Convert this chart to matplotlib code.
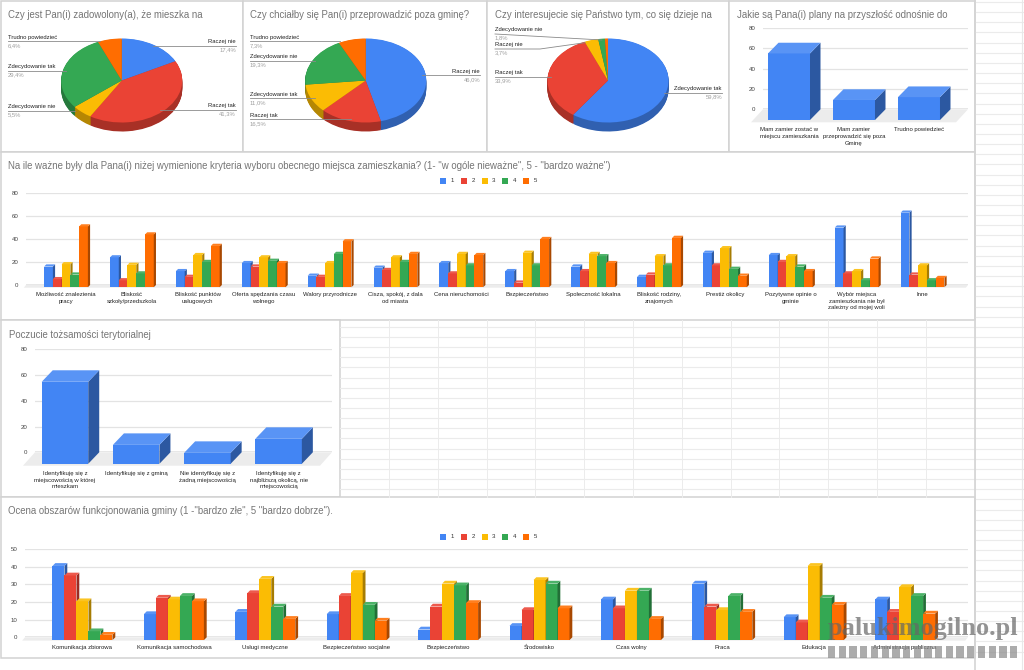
import matplotlib
matplotlib.use("Agg")
import matplotlib.pyplot as plt
import numpy as np
from matplotlib.patches import Polygon, Rectangle

plt.rcParams['font.family'] = ['Liberation Sans', 'DejaVu Sans']

W, H = 1024, 670

SERIES_COLORS = ['#4285F4', '#EA4335', '#FBBC04', '#34A853', '#FF6D01']
SERIES_NAMES = ['1', '2', '3', '4', '5']

# pie charts
pie1_titles = 'Czy jest Pan(i) zadowolony(a), że mieszka na'
pie1_names = ['Raczej nie', 'Raczej tak', 'Zdecydowanie nie', 'Zdecydowanie tak', 'Trudno powiedzieć']
pie1_values = [17.4, 41.3, 5.5, 29.4, 6.4]

pie2_titles = 'Czy chciałby się Pan(i) przeprowadzić poza gminę?'
pie2_names = ['Raczej nie', 'Raczej tak', 'Zdecydowanie tak', 'Zdecydowanie nie', 'Trudno powiedzieć']
pie2_values = [46.0, 16.5, 11.0, 19.3, 7.3]

pie3_titles = 'Czy interesujecie się Państwo tym, co się dzieje na'
pie3_names = ['Zdecydowanie tak', 'Raczej tak', 'Raczej nie', 'Zdecydowanie nie', '']
pie3_values = [59.8, 33.9, 3.7, 1.8, 0.8]

# single series bars
plans_labels = ['Mam zamier zostać w\nmiejscu zamieszkania',
                'Mam zamier\nprzeprowadzić się poza\nGminę',
                'Trudno powiedzieć']
plans_values = [65.5, 19.7, 22.5]

identity_labels = ['Identyfikuję się z\nmiejscowością w której\nmieszkam',
                   'Identyfikuję się z gminą',
                   'Nie identyfikuję się z\nżadną miejscowością',
                   'Identyfikuję się z\nnajbliższą okolicą, nie\nmiejscowością']
identity_values = [63.7, 14.7, 8.5, 19.4]

# criteria of choosing the place to live
criteria_labels = ['Możliwość znalezienia\npracy', 'Bliskość\nszkoły/przedszkola',
                   'Bliskość punktów\nusługowych', 'Oferta spędzania czasu\nwolnego',
                   'Walory przyrodnicze', 'Cisza, spokój, z dala\nod miasta',
                   'Cena nieruchomości', 'Bezpieczeństwo', 'Społeczność lokalna',
                   'Bliskość rodziny,\nznajomych', 'Prestiż okolicy',
                   'Pozytywne opinie o\ngminie',
                   'Wybór miejsca\nzamieszkania nie był\nzależny od mojej woli', 'Inne']
criteria_1 = [18, 26, 14, 21, 10, 17, 21, 14, 18, 9, 30, 28, 52, 65]
criteria_2 = [7, 6, 9, 18, 9, 15, 12, 4, 14, 11, 19, 22, 12, 11]
criteria_3 = [20, 19.5, 28, 26, 21, 26, 29, 30, 29, 27, 34, 27, 14, 19]
criteria_4 = [11, 12, 22, 23, 29, 22, 19, 19, 27, 19, 16, 18, 6, 6]
criteria_5 = [53, 46, 36, 21, 40, 29, 28, 42, 21, 43, 10, 14, 25, 8]

# rating of the municipality
rating_labels = ['Komunikacja zbiorowa', 'Komunikacja samochodowa', 'Usługi medyczne',
                 'Bezpieczeństwo socjalne', 'Bezpieczeństwo', 'Środowisko', 'Czas wolny',
                 'Praca', 'Edukacja', 'Administracja publiczna']
rating_1 = [42, 14.7, 16, 14.7, 6, 8, 23, 32, 13, 23]
rating_2 = [36.6, 24, 26.6, 25, 19, 17, 18, 19, 10, 16]
rating_3 = [22, 23, 34.7, 38, 32, 34, 28, 17, 42, 30]
rating_4 = [5, 25, 19, 20, 31, 32, 28, 25, 24, 25]
rating_5 = [3, 22, 12, 11, 21, 18, 12, 16, 20, 15]


def shade(color, k):
    r, g, b = matplotlib.colors.to_rgb(color)
    return (r * k, g * k, b * k)


def tint(color, k):
    r, g, b = matplotlib.colors.to_rgb(color)
    return (r + (1 - r) * k, g + (1 - g) * k, b + (1 - b) * k)


def px_axes(fig, x0, y0, x1, y1):
    """Axes placed by pixel box, y counted from the top of the figure."""
    return fig.add_axes([x0 / W, 1 - y1 / H, (x1 - x0) / W, (y1 - y0) / H])


def px_units(ax):
    """Data units per pixel along x and y."""
    pos = ax.get_position()
    x0, x1 = ax.get_xlim()
    y0, y1 = ax.get_ylim()
    return (x1 - x0) / (pos.width * W), (y1 - y0) / (pos.height * H)


def draw_bar_3d(ax, x, value, width, dx, dy, color, z, top_tint=0.12):
    ax.bar(x, value, width, bottom=-dy, color=color, linewidth=0, zorder=z, clip_on=False)
    left, right = x - width / 2, x + width / 2
    side = [(right, -dy), (right + dx, 0), (right + dx, value), (right, value - dy)]
    top = [(left, value - dy), (left + dx, value), (right + dx, value), (right, value - dy)]
    ax.add_patch(Polygon(side, color=shade(color, 0.66), lw=0, zorder=z, clip_on=False))
    ax.add_patch(Polygon(top, color=tint(color, top_tint), lw=0, zorder=z, clip_on=False))


def setup_bar_axes(ax, xlim, ymax, step, labels, floor_px, pad, fs=4.4, xfs=4.3):
    ax.set_xlim(*xlim)
    ax.set_ylim(0, ymax)
    for s in ax.spines.values():
        s.set_visible(False)
    ax.patch.set_alpha(0)
    ax.set_axisbelow(True)
    ax.yaxis.grid(True, color='#e3e3e3', lw=0.9)
    ax.set_yticks(np.arange(0, ymax + 1, step))
    ax.set_xticks(np.arange(len(labels)))
    ax.set_xticklabels(labels, linespacing=1.42)
    ax.tick_params(axis='x', length=0, pad=pad, labelsize=xfs, labelcolor='#222222')
    ax.tick_params(axis='y', length=0, pad=5.5, labelsize=fs, labelcolor='#444444')

    ux, uy = px_units(ax)
    fx, fy = floor_px
    x0, x1 = xlim
    floor = [(x0, 0), (x1, 0), (x1 - fx * ux, -fy * uy), (x0 - fx * ux, -fy * uy)]
    ax.add_patch(Polygon(floor, color='#ececec', lw=0, zorder=0.6, clip_on=False))
    ax.axhline(0, color='#9a9a9a', lw=1.0, zorder=0.7)
    return ux, uy


def grouped_chart(ax, xlim, ymax, step, labels, series, pitch_px, width_px, depth_px, pad):
    ux, uy = setup_bar_axes(ax, xlim, ymax, step, labels, (depth_px, depth_px + 0.5), pad)
    z = 2.0
    for i in range(len(labels)):
        for j, values in enumerate(series):
            x = i + (j - 2) * pitch_px * ux
            draw_bar_3d(ax, x, values[i], width_px * ux, depth_px * ux, depth_px * uy,
                        SERIES_COLORS[j], z)
            z += 0.01


def single_chart(ax, xlim, ymax, step, labels, values, width_px, depth, floor_px, pad):
    ux, uy = setup_bar_axes(ax, xlim, ymax, step, labels, floor_px, pad)
    for i, v in enumerate(values):
        draw_bar_3d(ax, i, v, width_px * ux, depth[0] * ux, depth[1] * uy, SERIES_COLORS[0],
                    2 + i * 0.01)


def pie_3d(fig, cx, cy, rx, ry, depth, values, colors):
    ax = px_axes(fig, cx - rx, cy - ry, cx + rx, cy + ry + depth)
    d = depth / ry
    # stacked darker copies make the rim, the bright pie goes on top
    for off in np.linspace(-d, -0.01, 14):
        ax.pie(values, colors=[shade(c, 0.72) for c in colors], startangle=90,
               counterclock=False, center=(0, off), wedgeprops={'linewidth': 0})
    ax.pie(values, colors=colors, startangle=90, counterclock=False,
           wedgeprops={'linewidth': 0})
    ax.set_aspect('auto')
    ax.set_xlim(-1, 1)
    ax.set_ylim(-1 - d, 1)
    return ax


fig = plt.figure(figsize=(W / 100, H / 100), dpi=100, facecolor='white')

# sheet cells and panel frames behind the charts
bg = fig.add_axes([0, 0, 1, 1], zorder=-5)
bg.set_xlim(0, W)
bg.set_ylim(H, 0)
bg.axis('off')
for y in np.arange(2, 660, 10.15):
    bg.plot([975, 1024], [y, y], color='#ebebeb', lw=0.8)
    if 320 < y < 497:
        bg.plot([340, 975], [y, y], color='#ebebeb', lw=0.8)
for x in np.arange(389, 975, 48.8):
    bg.plot([x, x], [320, 497], color='#ececec', lw=0.7)
bg.plot([975, 975], [0, 670], color='#d4d4d4', lw=1.2)
bg.plot([1021.7, 1021.7], [0, 670], color='#e8e8e8', lw=0.8)
panels = [(1, 1, 243, 152), (243, 1, 487, 152), (487, 1, 729, 152), (729, 1, 975, 152),
          (1, 152, 975, 320), (1, 320, 340, 497), (1, 497, 975, 658)]
for x0, y0, x1, y1 in panels:
    bg.add_patch(Rectangle((x0, y0), x1 - x0, y1 - y0, fc='white', ec='#d2d2d2', lw=1.1))

TITLE = dict(color='#757575', fontsize=6.9, va='center', ha='left')
bg.text(8, 14.5, pie1_titles, **TITLE)
bg.text(250, 14.5, pie2_titles, **TITLE)
bg.text(495, 14.5, pie3_titles, **TITLE)
bg.text(737, 14.5, 'Jakie są Pana(i) plany na przyszłość odnośnie do', **TITLE)
bg.text(8, 166, 'Na ile ważne były dla Pana(i) niżej wymienione kryteria wyboru obecnego miejsca '
        'zamieszkania? (1- "w ogóle nieważne", 5 - "bardzo ważne")', **TITLE)
bg.text(9, 334.5, 'Poczucie tożsamości terytorialnej', **TITLE)
bg.text(8, 511.5, 'Ocena obszarów funkcjonowania gminy (1 -"bardzo złe", 5 "bardzo dobrze").', **TITLE)

# pies
pie_3d(fig, 121.7, 80.5, 60.5, 42, 9, pie1_values, SERIES_COLORS)
pie_3d(fig, 365.7, 80.5, 60.5, 42, 9, pie2_values, SERIES_COLORS)
pie_3d(fig, 608, 80.5, 60.5, 42, 9, pie3_values, SERIES_COLORS)

over = fig.add_axes([0, 0, 1, 1], zorder=3)
over.set_xlim(0, W)
over.set_ylim(H, 0)
over.axis('off')


def pie_label(name, value, anchor, line_y, end_x, bend=None, right=False):
    """Name above a leader line, percent under it."""
    ha = 'right' if right else 'left'
    bg.text(anchor, line_y - 4.2, name, fontsize=4.2, color='#222222', ha=ha, va='center')
    bg.text(anchor, line_y + 4.2, f'{value:.1f}%'.replace('.', ','), fontsize=4.2,
            color='#9e9e9e', ha=ha, va='center')
    if bend is None:
        xs, ys = [anchor, end_x], [line_y, line_y]
    else:
        xs, ys = [anchor, bend[0], end_x], [line_y, line_y, bend[1]]
    over.plot(xs, ys, color='#8a8a8a', lw=0.6)


pie_label(pie1_names[0], pie1_values[0], 236, 46, 153, right=True)
pie_label(pie1_names[1], pie1_values[1], 236, 110, 160, right=True)
pie_label(pie1_names[2], pie1_values[2], 8, 111, 75)
pie_label(pie1_names[3], pie1_values[3], 8, 71, 66)
pie_label(pie1_names[4], pie1_values[4], 8, 41.3, 100)

pie_label(pie2_names[0], pie2_values[0], 480, 75.3, 422, right=True)
pie_label(pie2_names[1], pie2_values[1], 250, 119.3, 351)
pie_label(pie2_names[2], pie2_values[2], 250, 98.3, 315)
pie_label(pie2_names[3], pie2_values[3], 250, 61, 315)
pie_label(pie2_names[4], pie2_values[4], 250, 41.3, 340)

pie_label(pie3_names[0], pie3_values[0], 722, 93, 664, right=True)
pie_label(pie3_names[1], pie3_values[1], 495, 76.7, 551)
pie_label(pie3_names[2], pie3_values[2], 495, 49, 585, bend=(540, 42.7))
pie_label(pie3_names[3], pie3_values[3], 495, 34, 602, bend=(495, 40))

# bar charts, the axes box runs from the top gridline down to the zero line
ax = px_axes(fig, 763, 28, 968, 109.3)
single_chart(ax, (-0.4, 2.754), 80, 20, plans_labels, plans_values, 42, (10.5, 10.7), (12, 13), 13)

ax = px_axes(fig, 26, 193.3, 968, 285)
grouped_chart(ax, (-0.607, 13.69), 80, 20, criteria_labels,
              [criteria_1, criteria_2, criteria_3, criteria_4, criteria_5], 8.75, 8.8, 2.2, 5)

ax = px_axes(fig, 35, 349.3, 332, 452.3)
single_chart(ax, (-0.421, 3.75), 80, 20, identity_labels, identity_values, 46.5, (11, 11.5),
             (12, 13.4), 13.5)

ax = px_axes(fig, 25, 549, 968, 637.3)
grouped_chart(ax, (-0.629, 9.688), 50, 10, rating_labels,
              [rating_1, rating_2, rating_3, rating_4, rating_5], 12, 12, 2.8, 5.2)

# legends
top = fig.add_axes([0, 0, 1, 1], zorder=5)
top.set_xlim(0, W)
top.set_ylim(H, 0)
top.axis('off')
for ly in (181, 537):
    for i, name in enumerate(SERIES_NAMES):
        lx = 440 + i * 20.8
        top.add_patch(Rectangle((lx, ly - 3), 6, 6, color=SERIES_COLORS[i], lw=0))
        top.text(lx + 10.5, ly, name, fontsize=4.4, color='#333333', ha='left', va='center')

# site mark over the bottom right corner
top.text(828, 628, 'palukimogilno.pl', family='Liberation Serif', weight='bold', fontsize=18.9,
         color='#666666', alpha=0.7, ha='left', va='center')
for i in range(18):
    top.add_patch(Rectangle((828 + i * 10.7, 646), 7.3, 12, color='#8c8c8c', alpha=0.72, lw=0))

fig.savefig('out.png', dpi=100)
plt.close(fig)
